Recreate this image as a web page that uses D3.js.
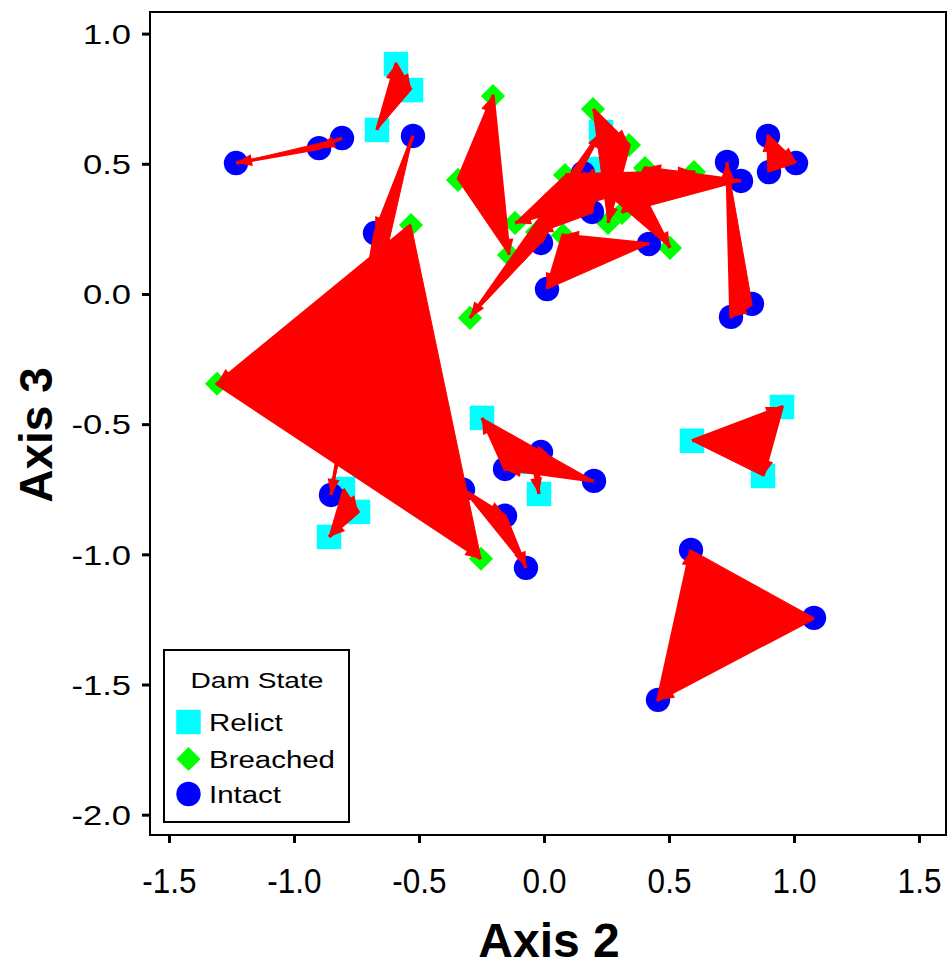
<!DOCTYPE html>
<html><head><meta charset="utf-8">
<script src="https://cdn.jsdelivr.net/npm/d3@7"></script>
<style>body{margin:0;background:#fff} svg{display:block}</style>
</head><body><svg id="c" width="950" height="968"></svg>
<script>
// ---- data ----
const stateNames = ["Relict", "Breached", "Intact"];
const stateColors = ["#00FFFF", "#00FF00", "#0000FF"];

const pointIds = [
  "I1","I2","I3","I4","I5","I6","I7","I8","I9","I10","I11","I12","I13","I14",
  "I15","I16","I17","I18","I19","I20","I21","I22","I23","I24","I25","I26","I27","I28",
  "R1","R2","R3","R4","R5","R6","R7","R8","R9","R10","R11","R12","R13","R14",
  "B1","B2","B3","B4","B5","B6","B7","B8","B9","B10","B11","B12","B13","B14","B15","B16","B17","B18"
];
const axis2 = [
  -1.232,-0.900,-0.808,-0.524,-0.676,0.156,0.192,-0.012,0.012,0.420,0.392,0.732,0.788,0.896,
  0.900,1.008,0.748,0.832,-0.852,-0.324,-0.156,-0.072,-0.156,-0.012,0.200,0.588,1.080,0.456,
  -0.592,-0.532,-0.668,0.228,0.196,-0.248,-0.044,-0.020,-0.804,-0.744,-0.860,0.592,0.952,0.876,
  -1.308,-0.532,-0.252,-0.204,-0.344,-0.140,0.196,0.340,0.404,0.600,0.084,0.312,0.504,-0.296,-0.116,-0.028,0.076,0.256
];
const axis3 = [
  0.503,0.560,0.599,0.607,0.234,0.464,0.315,0.196,0.019,0.192,0.388,0.507,0.434,0.607,
  0.468,0.503,-0.088,-0.038,-0.772,-0.752,-0.852,-1.052,-0.672,-0.607,-0.718,-0.983,-1.244,-1.559,
  0.883,0.783,0.630,0.622,0.480,-0.476,-0.645,-0.768,-0.749,-0.837,-0.933,-0.564,-0.434,-0.699,
  -0.345,0.265,-1.017,0.760,0.438,0.150,0.710,0.572,0.484,0.468,0.457,0.311,0.177,-0.092,0.273,0.238,0.226,0.273
];
const pointState = [
  "Intact","Intact","Intact","Intact","Intact","Intact","Intact","Intact","Intact","Intact","Intact","Intact","Intact","Intact",
  "Intact","Intact","Intact","Intact","Intact","Intact","Intact","Intact","Intact","Intact","Intact","Intact","Intact","Intact",
  "Relict","Relict","Relict","Relict","Relict","Relict","Relict","Relict","Relict","Relict","Relict","Relict","Relict","Relict",
  "Breached","Breached","Breached","Breached","Breached","Breached","Breached","Breached","Breached","Breached","Breached","Breached","Breached","Breached","Breached","Breached","Breached","Breached"
];
// successional trajectories (ordered point ids)
const trajectories = [
  ["I3","I2","I1"], ["R3","R1","R2"], ["I4","I5","I19"], ["B2","B1","B3"],
  ["I20","I21","I22"], ["I25","I23","R6"], ["I24","R7","R8"], ["R9","R10","R11"],
  ["R12","R13","R14"], ["I27","I28","I26"], ["I18","I17","I12"], ["I15","I14","I16"],
  ["B5","B4","B6"], ["B7","B8","B18"], ["I13","B9","B12"], ["I6","I11","B13"],
  ["I8","R4","B14"], ["B11","B10","B15"], ["I10","B17","I9"], ["R5","I7","B16"]
];
const xTicks = [-1.5, -1.0, -0.5, 0.0, 0.5, 1.0, 1.5];
const yTicks = [-2.0, -1.5, -1.0, -0.5, 0.0, 0.5, 1.0];

// ---- layout ----
const L = 150, R = 946, T = 12, B = 835;
const svg = d3.select("#c");
const x = d3.scaleLinear().domain([-1.576, 1.608]).range([L, R]);
const y = d3.scaleLinear().domain([-2.078, 1.083]).range([B, T]);
const color = d3.scaleOrdinal().domain(stateNames).range(stateColors);
const font = "'Liberation Sans', Arial, sans-serif";

const pts = pointIds.map((id, i) => ({id, a2: axis2[i], a3: axis3[i], state: pointState[i]}));
const byId = new Map(pts.map(p => [p.id, p]));

function symbolFor(state, size) {
  if (state === "Relict") return d3.symbol().type(d3.symbolSquare).size(size)();
  if (state === "Breached") return d3.symbol().type(d3.symbolDiamond2).size(size * 0.62)();
  return d3.symbol().type(d3.symbolCircle).size(size * 0.78)();
}
const SZ = 600;

// points (drawn underneath the vectors)
const order = ["Relict", "Breached", "Intact"];
svg.append("g").selectAll("path")
  .data(pts.slice().sort((p, q) => order.indexOf(p.state) - order.indexOf(q.state)))
  .join("path")
  .attr("transform", d => `translate(${x(d.a2)},${y(d.a3)})`)
  .attr("d", d => symbolFor(d.state, SZ))
  .attr("fill", d => color(d.state));

// vectors
const gv = svg.append("g");
const line = d3.line().x(p => x(p.a2)).y(p => y(p.a3));
trajectories.forEach(tr => {
  const ps = tr.map(id => byId.get(id));
  gv.append("path").attr("d", line(ps) + "Z").attr("fill", "#FF0000").attr("stroke", "#FF0000").attr("stroke-width", 1);
  gv.append("path").attr("d", line(ps)).attr("fill", "none").attr("stroke", "#FF0000")
    .attr("stroke-width", 3.5).attr("stroke-linejoin", "round");
  for (let k = 1; k < ps.length; k++) {
    const x0 = x(ps[k-1].a2), y0 = y(ps[k-1].a3), x1 = x(ps[k].a2), y1 = y(ps[k].a3);
    const len = Math.hypot(x1 - x0, y1 - y0) || 1;
    const ux = (x1 - x0) / len, uy = (y1 - y0) / len;
    const hl = 16, hw = 6;
    const bx = x1 - ux * hl, by = y1 - uy * hl;
    gv.append("path")
      .attr("d", `M${x1},${y1}L${bx - uy * hw},${by + ux * hw}L${bx + uy * hw},${by - ux * hw}Z`)
      .attr("fill", "#FF0000");
  }
});

// frame
svg.append("rect").attr("x", L).attr("y", T).attr("width", R - L).attr("height", B - T)
  .attr("fill", "none").attr("stroke", "#000").attr("stroke-width", 2);

// axes
const xa = svg.append("g").attr("transform", `translate(0,${B})`)
  .call(d3.axisBottom(x).tickValues(xTicks).tickSize(8).tickFormat(d => d.toFixed(1)));
xa.select(".domain").remove();
xa.selectAll("line").attr("stroke", "#000").attr("stroke-width", 3);
xa.selectAll("text").attr("font-family", font).attr("font-size", 35).attr("fill", "#000")
  .attr("y", 58).attr("dy", 0).attr("x", 0).attr("transform", "scale(0.9,1)");

const ya = svg.append("g").attr("transform", `translate(${L},0)`)
  .call(d3.axisLeft(y).tickValues(yTicks).tickSize(8).tickFormat(d => d.toFixed(1)));
ya.select(".domain").remove();
ya.selectAll("line").attr("stroke", "#000").attr("stroke-width", 3);
ya.selectAll("text").attr("font-family", font).attr("font-size", 27).attr("fill", "#000")
  .attr("transform", "scale(1.28,1)").attr("x", -19 / 1.28).attr("dy", "0.36em");

// titles
svg.append("text").attr("x", 549).attr("y", 957).attr("text-anchor", "middle")
  .attr("font-family", font).attr("font-weight", "bold").attr("font-size", 48).text("Axis 2");
svg.append("text").attr("transform", "translate(52,435) rotate(-90)").attr("text-anchor", "middle")
  .attr("font-family", font).attr("font-weight", "bold").attr("font-size", 46).text("Axis 3");

// legend
const lg = svg.append("g");
lg.append("rect").attr("x", 164).attr("y", 650).attr("width", 185).attr("height", 172)
  .attr("fill", "#fff").attr("stroke", "#000").attr("stroke-width", 2);
lg.append("text").attr("transform", "translate(257,688) scale(1.28,1)").attr("text-anchor", "middle")
  .attr("font-family", font).attr("font-size", 22).text("Dam State");
const legY = [722, 759, 794];
stateNames.forEach((s, i) => {
  lg.append("path").attr("transform", `translate(188.5,${legY[i]})`)
    .attr("d", symbolFor(s, SZ)).attr("fill", color(s));
  lg.append("text").attr("transform", `translate(209,${legY[i] + 9}) scale(1.28,1)`)
    .attr("font-family", font).attr("font-size", 23).text(s);
});
</script></body></html>
